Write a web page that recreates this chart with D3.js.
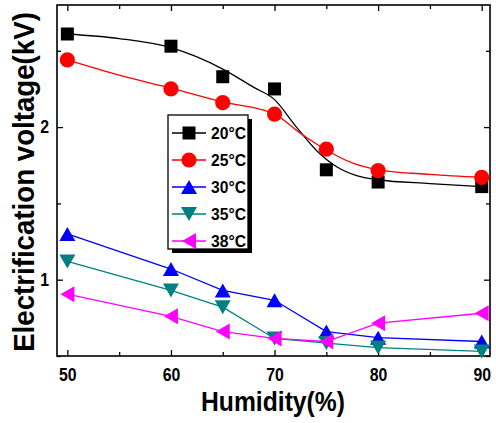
<!DOCTYPE html>
<html>
<head>
<meta charset="utf-8">
<script src="https://cdn.jsdelivr.net/npm/d3@7"></script>
<style>
  html, body { margin: 0; padding: 0; background: #fff; }
  text { font-family: "Liberation Sans", Arial, sans-serif; font-weight: bold; }
</style>
</head>
<body>
<div id="chart"></div>
<script>
// humidity (%) and electrification voltage (kV) per temperature
const humidity = [50, 60, 65, 70, 75, 80, 90];
const v20 = [2.61, 2.53, 2.33, 2.25, 1.72, 1.64, 1.61];
const v25 = [2.44, 2.25, 2.16, 2.085, 1.855, 1.715, 1.67];
const v30 = [1.30, 1.07, 0.93, 0.865, 0.66, 0.62, 0.595];
const v35 = [1.12, 0.93, 0.82, 0.615, 0.585, 0.555, 0.53];
const v38 = [0.905, 0.76, 0.66, 0.615, 0.595, 0.715, 0.78];

// fitted curves for 20 and 25 C
const fitX20 = [50, 55, 60, 65, 68, 70, 72, 74, 76, 78, 80, 85, 90];
const fitY20 = [2.61, 2.58, 2.52, 2.38, 2.26, 2.18, 2.01, 1.85, 1.74, 1.68, 1.655, 1.63, 1.61];
const fitX25 = [50, 55, 60, 65, 70, 72.5, 75, 77.5, 80, 85, 90];
const fitY25 = [2.44, 2.34, 2.255, 2.165, 2.085, 1.96, 1.85, 1.765, 1.72, 1.69, 1.67];

const seriesNames = ["20°C", "25°C", "30°C", "35°C", "38°C"];
const xTicks = [50, 60, 70, 80, 90];
const xMinor = [55, 65, 75, 85];
const yTicks = [1, 2];
const yMinor = [0.5, 1.5, 2.5];

const width = 496, height = 423;
const m = { left: 57, right: 490, top: 5, bottom: 356 };

const svg = d3.select("#chart").append("svg")
    .attr("width", width)
    .attr("height", height);

const x = d3.scaleLinear().domain([49, 90.8]).range([m.left, m.right]);
const y = d3.scaleLinear().domain([0.5, 2.8]).range([m.bottom, m.top]);

// squeeze a text to a given length (the original font is condensed)
function squeeze(sel, len, base) {
    const w = sel.node().getComputedTextLength();
    sel.attr("transform", `${base || ""} scale(${len / w},1)`);
}

// axes, ticks point inward
function styleAxis(g) {
    g.select(".domain").remove();
    g.selectAll("line").attr("stroke", "#000").attr("stroke-width", 1.3);
}

svg.append("g").attr("transform", `translate(0,${m.bottom})`)
    .call(d3.axisBottom(x).tickValues(xTicks).tickSize(-6).tickPadding(12).tickFormat(d3.format("d")))
    .call(styleAxis)
    .call(g => g.selectAll("text")
        .attr("fill", "#000")
        .style("font-size", "18px")
        .attr("transform", "scale(0.88,1)"));
svg.append("g").attr("transform", `translate(0,${m.bottom})`)
    .call(d3.axisBottom(x).tickValues(xMinor).tickSize(-4).tickFormat(""))
    .call(styleAxis);
svg.append("g").attr("transform", `translate(0,${m.top})`)
    .call(d3.axisTop(x).tickValues(xTicks).tickSize(-6).tickFormat(""))
    .call(styleAxis);
svg.append("g").attr("transform", `translate(0,${m.top})`)
    .call(d3.axisTop(x).tickValues(xMinor).tickSize(-4).tickFormat(""))
    .call(styleAxis);

svg.append("g").attr("transform", `translate(${m.left},0)`)
    .call(d3.axisLeft(y).tickValues(yTicks).tickSize(-6).tickPadding(9).tickFormat(d3.format("d")))
    .call(styleAxis)
    .call(g => g.selectAll("text")
        .attr("fill", "#000")
        .style("font-size", "18px")
        .attr("transform", "scale(0.88,1)"));
svg.append("g").attr("transform", `translate(${m.left},0)`)
    .call(d3.axisLeft(y).tickValues(yMinor).tickSize(-4).tickFormat(""))
    .call(styleAxis);
svg.append("g").attr("transform", `translate(${m.right},0)`)
    .call(d3.axisRight(y).tickValues(yTicks).tickSize(-6).tickFormat(""))
    .call(styleAxis);
svg.append("g").attr("transform", `translate(${m.right},0)`)
    .call(d3.axisRight(y).tickValues(yMinor).tickSize(-4).tickFormat(""))
    .call(styleAxis);

// frame
svg.append("rect")
    .attr("x", m.left).attr("y", m.top)
    .attr("width", m.right - m.left).attr("height", m.bottom - m.top)
    .attr("fill", "none").attr("stroke", "#000").attr("stroke-width", 1.6);

// markers
function markerPath(shape) {
    if (shape === "square") return d3.symbol(d3.symbolSquare, 13 * 13)();
    if (shape === "circle") return d3.symbol(d3.symbolCircle, Math.PI * 7.6 * 7.6)();
    const w = 16, h = 14;
    if (shape === "up") return `M0,${-h / 2}L${w / 2},${h / 2}L${-w / 2},${h / 2}Z`;
    if (shape === "down") return `M0,${h / 2}L${w / 2},${-h / 2}L${-w / 2},${-h / 2}Z`;
    return `M${-h / 2},0L${h / 2},${-w / 2}L${h / 2},${w / 2}Z`;
}

const series = [
    { name: seriesNames[0], values: v20, color: "#000000", shape: "square", fitX: fitX20, fitY: fitY20 },
    { name: seriesNames[1], values: v25, color: "#ff0000", shape: "circle", fitX: fitX25, fitY: fitY25 },
    { name: seriesNames[2], values: v30, color: "#0000ff", shape: "up" },
    { name: seriesNames[3], values: v35, color: "#008080", shape: "down" },
    { name: seriesNames[4], values: v38, color: "#ff00ff", shape: "left" }
];

const straight = d3.line().x(d => x(d[0])).y(d => y(d[1]));
const smooth = d3.line().x(d => x(d[0])).y(d => y(d[1])).curve(d3.curveMonotoneX);

series.forEach(s => {
    const pts = s.fitX ? d3.zip(s.fitX, s.fitY) : d3.zip(humidity, s.values);
    svg.append("path")
        .attr("d", (s.fitX ? smooth : straight)(pts))
        .attr("fill", "none")
        .attr("stroke", s.color)
        .attr("stroke-width", 1.3);
});

series.forEach(s => {
    svg.append("g").selectAll("path")
        .data(d3.zip(humidity, s.values))
        .join("path")
        .attr("d", markerPath(s.shape))
        .attr("transform", d => `translate(${x(d[0])},${y(d[1])})`)
        .attr("fill", s.color);
});

// legend with drop shadow
const lg = svg.append("g").attr("transform", "translate(168,115)");
lg.append("rect").attr("x", 4).attr("y", 4).attr("width", 80).attr("height", 134).attr("fill", "#000");
lg.append("rect").attr("x", 0).attr("y", 0).attr("width", 80).attr("height", 134)
    .attr("fill", "#fff").attr("stroke", "#000").attr("stroke-width", 1.3);

series.forEach((s, i) => {
    const cy = 18 + i * 27;
    lg.append("line").attr("x1", 4).attr("x2", 38).attr("y1", cy).attr("y2", cy)
        .attr("stroke", s.color).attr("stroke-width", 1.3);
    lg.append("path").attr("d", markerPath(s.shape))
        .attr("transform", `translate(21,${cy})`).attr("fill", s.color);
    lg.append("text")
        .style("font-size", "17px").attr("fill", "#000")
        .text(s.name)
        .call(squeeze, 35, `translate(43,${cy + 6})`);
});

// axis titles
svg.append("text")
    .attr("text-anchor", "middle")
    .style("font-size", "27px").attr("fill", "#000")
    .text("Humidity(%)")
    .call(squeeze, 144, "translate(273,411)");

svg.append("text")
    .attr("text-anchor", "middle")
    .style("font-size", "29px").attr("fill", "#000")
    .text("Electrification voltage(kV)")
    .call(squeeze, 340, "translate(34,182) rotate(-90)");
</script>
</body>
</html>
